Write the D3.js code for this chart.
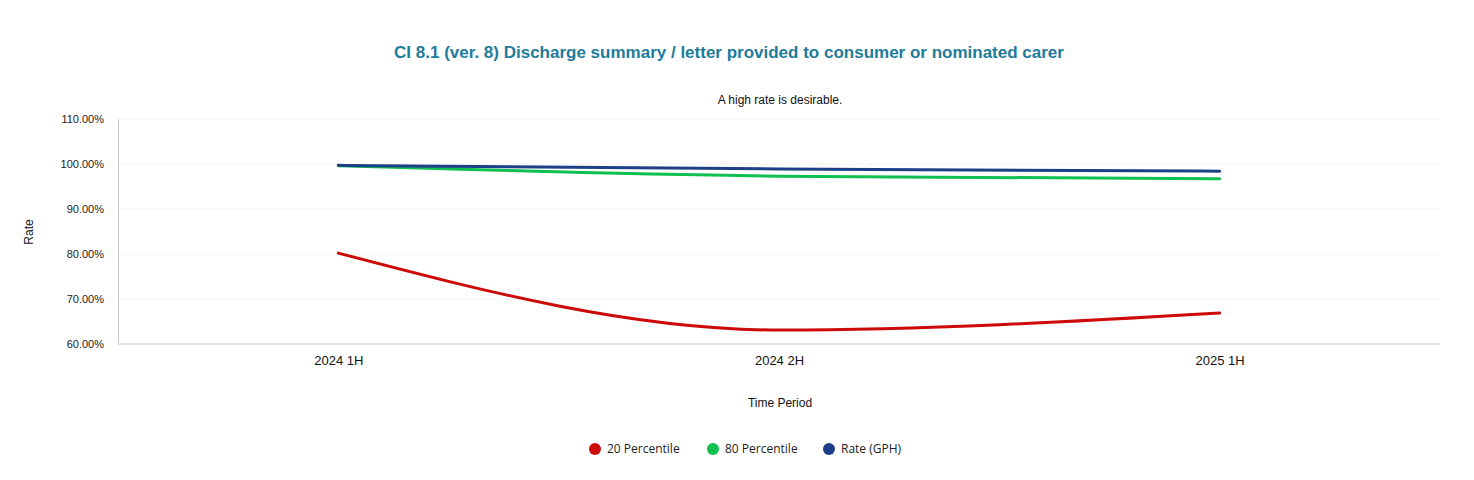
<!DOCTYPE html>
<html>
<head>
<meta charset="utf-8">
<script src="https://cdn.jsdelivr.net/npm/d3@7"></script>
<style>
  body { margin: 0; background: #fff; }
  svg { display: block; font-family: "Liberation Sans", Arial, sans-serif; }
</style>
</head>
<body>
<svg id="chart" width="1474" height="480"></svg>
<script>
const periods = ["2024 1H", "2024 2H", "2025 1H"];
const p20 = [80.2, 63.1, 66.9];
const p80 = [99.6, 97.3, 96.7];
const rateGPH = [99.7, 98.9, 98.4];
const yTicks = [60, 70, 80, 90, 100, 110];

const series = [
    { name: "20 Percentile", values: p20, color: "#cc0a0a" },
    { name: "80 Percentile", values: p80, color: "#0fbf50" },
    { name: "Rate (GPH)", values: rateGPH, color: "#1c3f87" }
];

const svg = d3.select("#chart");
const margin = { left: 118, right: 34, top: 119, bottom: 136 };
const width = 1474, height = 480;

const x = d3.scalePoint()
    .domain(periods)
    .range([margin.left, width - margin.right])
    .padding(0.5);

const y = d3.scaleLinear()
    .domain([60, 110])
    .range([height - margin.bottom, margin.top]);

// title
svg.append("text")
    .attr("x", 729).attr("y", 58)
    .attr("text-anchor", "middle")
    .attr("font-size", 17).attr("font-weight", "bold")
    .attr("fill", "#1d7b9b")
    .text("CI 8.1 (ver. 8) Discharge summary / letter provided to consumer or nominated carer");

svg.append("text")
    .attr("x", 780).attr("y", 104)
    .attr("text-anchor", "middle")
    .attr("font-size", 12).attr("fill", "#111")
    .text("A high rate is desirable.");

// grid lines
svg.append("g")
    .selectAll("line")
    .data(yTicks)
    .join("line")
    .attr("x1", margin.left).attr("x2", width - margin.right)
    .attr("y1", d => y(d)).attr("y2", d => y(d))
    .attr("stroke", "#d6d6d6")
    .attr("stroke-dasharray", "1,3");

// y axis
const yAxis = svg.append("g")
    .attr("transform", `translate(${margin.left},0)`)
    .call(d3.axisLeft(y).tickValues(yTicks).tickSize(0).tickPadding(14)
        .tickFormat(d => d.toFixed(2) + "%"));
yAxis.select(".domain").attr("stroke", "#ccc");
yAxis.selectAll("text").attr("font-size", 11).attr("fill", "#222")
    .attr("font-family", "'Liberation Sans', Arial, sans-serif");

// x axis
const xAxis = svg.append("g")
    .attr("transform", `translate(0,${height - margin.bottom})`)
    .call(d3.axisBottom(x).tickSize(0).tickPadding(12));
xAxis.select(".domain").attr("stroke", "#ccc")
    .attr("d", `M${margin.left},0H${width - margin.right}`);
xAxis.selectAll("text").attr("font-size", 13).attr("fill", "#111")
    .attr("font-family", "'Liberation Sans', Arial, sans-serif");

svg.append("text")
    .attr("x", 780).attr("y", 407)
    .attr("text-anchor", "middle")
    .attr("font-size", 12).attr("fill", "#111")
    .text("Time Period");

svg.append("text")
    .attr("transform", "translate(33,232) rotate(-90)")
    .attr("text-anchor", "middle")
    .attr("font-size", 12).attr("fill", "#111")
    .text("Rate");

// lines
const line = d3.line()
    .x((d, i) => x(periods[i]))
    .y(d => y(d))
    .curve(d3.curveMonotoneX);

svg.append("g")
    .attr("fill", "none")
    .attr("stroke-width", 3)
    .attr("stroke-linecap", "round")
    .selectAll("path")
    .data(series)
    .join("path")
    .attr("stroke", d => d.color)
    .attr("d", d => line(d.values));

// legend
const legendX = [595, 713, 829];
const legend = svg.append("g")
    .selectAll("g")
    .data(series)
    .join("g")
    .attr("transform", (d, i) => `translate(${legendX[i]},449)`);
legend.append("circle").attr("r", 6).attr("fill", d => d.color);
legend.append("text")
    .attr("x", 12).attr("dy", "0.35em")
    .attr("font-size", 12)
    .attr("font-family", "'Open Sans', sans-serif")
    .attr("fill", "#222")
    .text(d => d.name);
</script>
</body>
</html>
